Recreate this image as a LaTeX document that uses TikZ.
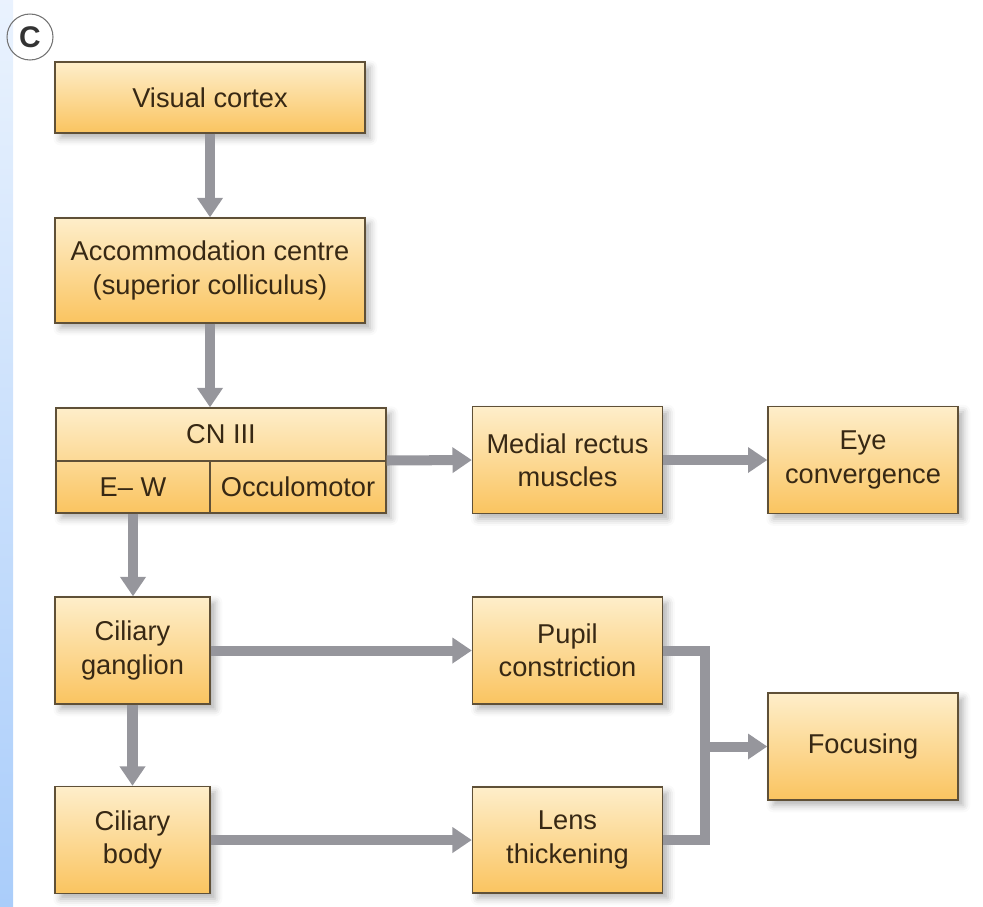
\documentclass[tikz,border=0pt]{standalone}
\usepackage{fontspec}
\setmainfont{Liberation Sans}
\usepackage{tikz}
\usetikzlibrary{arrows.meta,positioning,shadows.blur,calc}
\definecolor{boxtop}{RGB}{254,238,202}
\definecolor{boxbot}{RGB}{250,196,96}
\definecolor{boxline}{RGB}{95,80,55}
\definecolor{linkgray}{RGB}{150,150,156}
\definecolor{strip}{RGB}{170,205,250}
\definecolor{txt}{RGB}{55,40,20}

\begin{document}
\begin{tikzpicture}[x=0.02cm,y=-0.02cm,
  box/.style={draw=boxline, line width=0.8pt, top color=boxtop, bottom color=boxbot,
    text=txt, align=center, inner sep=0pt, font=\fontsize{15.5}{19}\selectfont,
    blur shadow={shadow xshift=3pt, shadow yshift=-3pt, shadow blur radius=4pt, shadow opacity=30}},
  part/.style={draw=boxline, line width=0.8pt, text=txt, align=center, inner sep=0pt,
    font=\fontsize{15.5}{19}\selectfont},
  link/.style={draw=linkgray, line width=5.7pt, line join=miter},
  arrow/.style={link, -{Triangle[width=14pt,length=11pt]}}]
\useasboundingbox (0,0) rectangle (983,906);
\shade[top color=strip!25, bottom color=strip] (0,0) rectangle (13,906);
\node[circle, draw=black!55, line width=0.6pt, minimum size=0.92cm, inner sep=0pt,
  font=\fontsize{17}{17}\selectfont\bfseries, text=black!80] (tag) at (30,37) {C};

% left column
\node[box, minimum width=6.2cm, minimum height=1.42cm] (visual) at (210,97.5) {Visual cortex};
\node[box, minimum width=6.2cm, minimum height=2.1cm] (accom) at (210,270.5)
  {Accommodation centre\\(superior colliculus)};
\node[box, minimum width=6.6cm, minimum height=2.1cm] (cn) at (221,460.5) {};
\node[part, minimum width=6.6cm, minimum height=1.06cm] (cnhead) at (221,434.5) {CN III};
\node[part, minimum width=3.08cm, minimum height=1.04cm] (ew) at (133,487) {E-- W};
\node[part, minimum width=3.52cm, minimum height=1.04cm] (oculo) at (298,487) {Occulomotor};
\node[box, minimum width=3.1cm, minimum height=2.14cm] (gang) at (132.5,650.5) {Ciliary\\ganglion};
\node[box, minimum width=3.1cm, minimum height=2.14cm] (body) at (132.5,840) {Ciliary\\body};

% right columns
\node[box, minimum width=3.8cm, minimum height=2.14cm] (medial) at (567.5,460) {Medial rectus\\muscles};
\node[box, minimum width=3.8cm, minimum height=2.14cm] (conv) at (863,460) {Eye\\convergence};
\node[box, minimum width=3.8cm, minimum height=2.14cm] (pupil) at (567.5,650.5) {Pupil\\constriction};
\node[box, minimum width=3.8cm, minimum height=2.12cm] (lens) at (567.5,840) {Lens\\thickening};
\node[box, minimum width=3.8cm, minimum height=2.14cm] (focus) at (863,746.5) {Focusing};
\coordinate (join) at (705,746.5);

% connectors
\draw[arrow] (visual) -- (accom);
\draw[arrow] (accom.south) -- (accom.south |- cn.north);
\draw[arrow] (cn.east) -- (medial.west);
\draw[arrow] (medial) -- (conv);
\draw[arrow] (ew.south) -- (ew.south |- gang.north);
\draw[arrow] (gang) -- (pupil);
\draw[arrow] (gang) -- (body);
\draw[arrow] (body) -- (lens);
\draw[link] (pupil.east) -| (join) |- (lens.east);
\draw[arrow] (join) -- (focus);
\end{tikzpicture}
\end{document}
